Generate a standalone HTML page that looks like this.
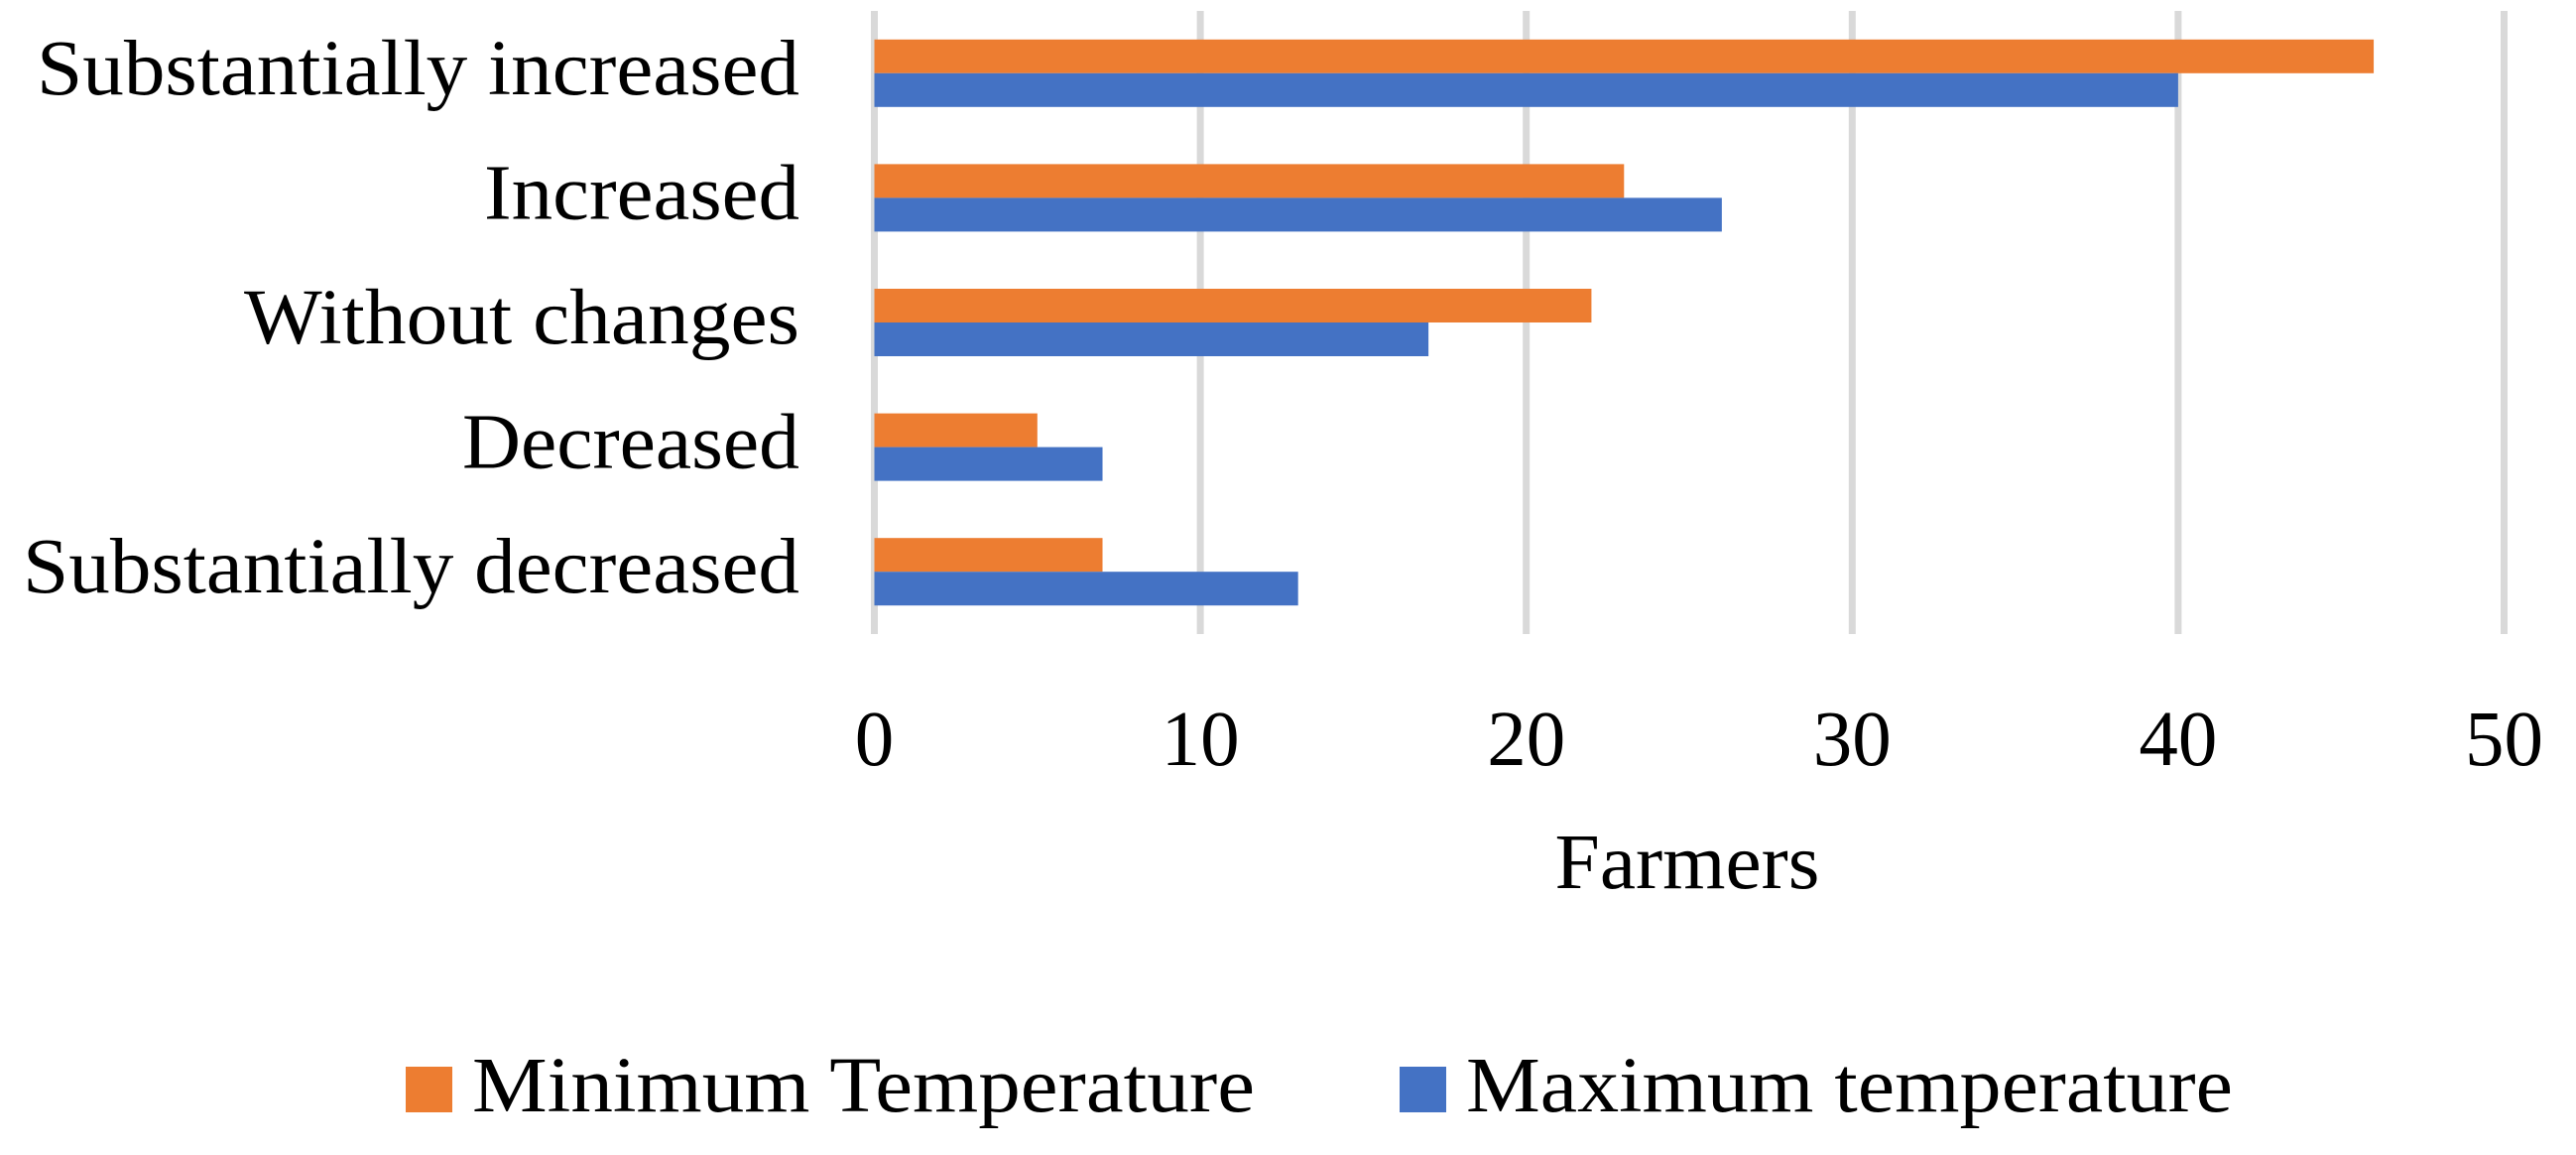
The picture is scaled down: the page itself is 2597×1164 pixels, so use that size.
<!DOCTYPE html>
<html><head><meta charset="utf-8"><style>
html,body{margin:0;padding:0;background:#fff;}
svg{display:block;font-family:"Liberation Serif",serif;}
</style></head><body>
<svg id="chart" width="2597" height="1164" viewBox="0 0 2597 1164">
<g id="grid"></g>
<g id="bars"></g>
<g id="ylabels"></g>
<g id="xlabels"></g>
<text x="1701" y="895" font-size="79" text-anchor="middle" textLength="267" lengthAdjust="spacingAndGlyphs">Farmers</text>
<g>
<rect x="409" y="1075" width="47" height="46" fill="#ED7D31"/>
<text x="476" y="1120" font-size="79" textLength="789" lengthAdjust="spacingAndGlyphs">Minimum Temperature</text>
<rect x="1411" y="1075" width="47" height="46" fill="#4472C4"/>
<text x="1478" y="1120" font-size="79" textLength="773" lengthAdjust="spacingAndGlyphs">Maximum temperature</text>
</g>
</svg>
<script>
const categories = ["Substantially increased","Increased","Without changes","Decreased","Substantially decreased"];
const minTemp = [46, 23, 22, 5, 7];
const maxTemp = [40, 26, 17, 7, 13];
const xTicks = [0, 10, 20, 30, 40, 50];
const labelWidths = [769, 318, 560, 340, 783];

const NS = "http://www.w3.org/2000/svg";
const x0 = 881.5, x1 = 2524.5, xMax = 50;
const yTop = 11, yBot = 639;
const band = (yBot - yTop) / categories.length;
const barH = 34;
function xs(v){ return x0 + (v / xMax) * (x1 - x0); }
function yc(i){ return yTop + band * (i + 0.5); }
function mk(tag, attrs, parent){
  const e = document.createElementNS(NS, tag);
  for (const k in attrs) e.setAttribute(k, attrs[k]);
  parent.appendChild(e);
  return e;
}
const grid = document.getElementById('grid');
const bars = document.getElementById('bars');
const yl = document.getElementById('ylabels');
const xl = document.getElementById('xlabels');
xTicks.forEach(t => {
  const l = mk('line', {x1: xs(t), x2: xs(t), y1: yTop, y2: yBot, stroke: '#D9D9D9', 'stroke-width': 7}, grid);
  
  
  const tx = mk('text', {x: xs(t), y: 771, 'font-size': 79, 'text-anchor': 'middle'}, xl);
  tx.textContent = t;
  
  
});
categories.forEach((c, i) => {
  const cy = yc(i);
  const r1 = mk('rect', {x: xs(0), y: cy - barH, width: xs(minTemp[i]) - xs(0), height: barH, fill: '#ED7D31'}, bars);
  
  
  const r2 = mk('rect', {x: xs(0), y: cy, width: xs(maxTemp[i]) - xs(0), height: barH, fill: '#4472C4'}, bars);
  
  
  const t = mk('text', {x: 806, y: cy + 21, 'font-size': 79, 'text-anchor': 'end', textLength: labelWidths[i], lengthAdjust: 'spacingAndGlyphs'}, yl);
  t.textContent = c;
  
  
});
</script>
</body></html>
